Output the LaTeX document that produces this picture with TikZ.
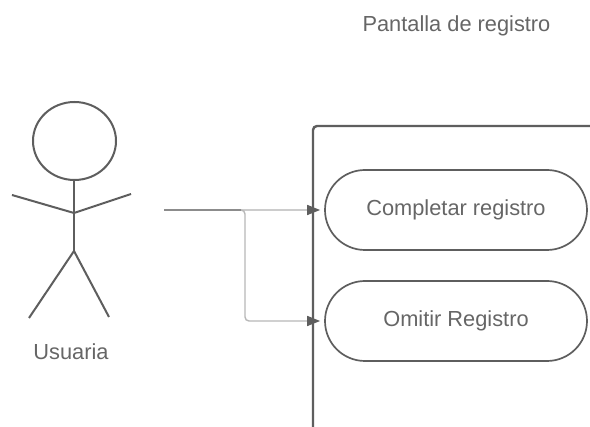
\documentclass[tikz,border=0pt]{standalone}
\usepackage{fontspec}
\setmainfont{Liberation Sans}
\usetikzlibrary{arrows.meta}
\definecolor{ink}{HTML}{5E5E5E}
\definecolor{txt}{HTML}{666666}
\tikzset{
  casefont/.style={font=\fontsize{21.8pt}{24pt}\selectfont},
  usecase/.style={draw=ink,line width=1.7pt,rounded corners=40pt,minimum width=262pt,minimum height=80pt,inner sep=0pt,text=txt,casefont},
  textlabel/.style={text=txt,inner sep=0pt,casefont},
  limb/.style={draw=ink,line width=2pt},
  wireline/.style={line width=1.4pt,rounded corners=4pt},
  tip/.style={-{Triangle[length=13pt,width=10pt,fill=ink,color=ink]},shorten >=4pt},
}
\begin{document}
\begin{tikzpicture}[x=1pt,y=-1pt]
\useasboundingbox (0,0) rectangle (590,427);
\fill[white] (0,0) rectangle (590,427);
\node[textlabel] (title) at (456.5,26) {Pantalla de registro};
\draw[draw=ink,line width=2.4pt,rounded corners=4pt] (313,427) -- (313,126) -- (591,126);
\node[usecase] (reg) at (456,210) {Completar registro};
\node[usecase] (omit) at (456,321) {Omitir Registro};
\draw[limb] (74.5,141) ellipse [x radius=41.5pt,y radius=39pt];
\draw[limb] (74,180) -- (74,251);
\draw[limb] (12,195) -- (74,213) -- (131,194);
\draw[limb] (29,318) -- (74,251) -- (109,317);
\node[textlabel] (actor) at (71,352) {Usuaria};
\coordinate (src) at (164,210);
\coordinate (fork) at (245,210);
\draw[wireline,draw=black!20,tip] (src) -- (reg.west);
\draw[wireline,draw=black!28,tip] (src) -- (fork) -- (245,321) -- (omit.west);
\draw[line width=1.6pt,draw=black!45] (src) -- (241,210);
\end{tikzpicture}
\end{document}
